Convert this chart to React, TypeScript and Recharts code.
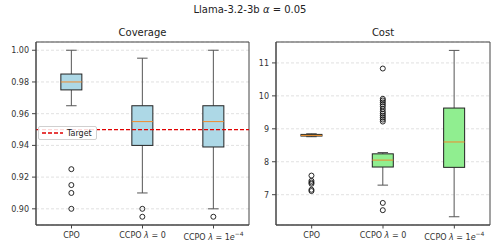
import React from 'react';
import {
  ComposedChart,
  Bar,
  XAxis,
  YAxis,
  CartesianGrid,
  ReferenceLine,
  ReferenceArea,
  Legend,
} from 'recharts';

// ---------- data ----------
const MODEL = 'Llama-3.2-3b';
const ALPHA = '0.05';
const CATEGORIES = ['CPO', 'CCPO λ=0', 'CCPO λ=1e-4'];

// Coverage panel
const COV_WHISKER_LOW = [0.965, 0.91, 0.9];
const COV_Q1 = [0.975, 0.94, 0.939];
const COV_MEDIAN = [0.98, 0.955, 0.955];
const COV_Q3 = [0.985, 0.965, 0.965];
const COV_WHISKER_HIGH = [1.0, 0.995, 1.0];
const COV_OUTLIERS = [[0.925, 0.915, 0.91, 0.9], [0.9, 0.895], [0.895]];
const COV_TICKS = [0.9, 0.92, 0.94, 0.96, 0.98, 1.0];
const COV_DOMAIN: [number, number] = [0.8898, 1.0052];
const TARGET = 0.95;
const TARGET_LABEL = 'Target';

// Cost panel
const COST_WHISKER_LOW = [8.76, 7.29, 6.33];
const COST_Q1 = [8.78, 7.84, 7.83];
const COST_MEDIAN = [8.8, 8.05, 8.6];
const COST_Q3 = [8.83, 8.24, 9.63];
const COST_WHISKER_HIGH = [8.85, 8.28, 11.38];
const COST_OUTLIERS = [
  [7.58, 7.42, 7.37, 7.33, 7.15, 7.11],
  [10.83, 9.91, 9.86, 9.8, 9.74, 9.68, 9.6, 9.52, 9.46, 9.4, 9.34, 9.28, 9.22, 6.75, 6.53],
  [],
];
const COST_TICKS = [7, 8, 9, 10, 11];
const COST_DOMAIN: [number, number] = [6.08, 11.635];

// ---------- helpers ----------
type Row = {
  name: string;
  wlo: number;
  q1: number;
  med: number;
  q3: number;
  whi: number;
  outliers: number[];
};

const buildRows = (
  wlo: number[],
  q1: number[],
  med: number[],
  q3: number[],
  whi: number[],
  out: number[][]
): Row[] =>
  CATEGORIES.map((name, i) => ({
    name,
    wlo: wlo[i],
    q1: q1[i],
    med: med[i],
    q3: q3[i],
    whi: whi[i],
    outliers: out[i],
  }));

const covRows = buildRows(COV_WHISKER_LOW, COV_Q1, COV_MEDIAN, COV_Q3, COV_WHISKER_HIGH, COV_OUTLIERS);
const costRows = buildRows(COST_WHISKER_LOW, COST_Q1, COST_MEDIAN, COST_Q3, COST_WHISKER_HIGH, COST_OUTLIERS);

const rangeOf = (d: Row): [number, number] => [
  Math.min(d.wlo, ...d.outliers),
  Math.max(d.whi, ...d.outliers),
];

const FONT = '"DejaVu Sans", sans-serif';
const SPINE = '#444';
const TICK_TEXT = '#333';

const makeBoxShape = (fill: string) => (props: any) => {
  const { x, y, width, height, payload } = props;
  if (x == null || y == null || !payload) return <g />;
  const d = payload as Row;
  const [lo, hi] = rangeOf(d);
  const top = Math.min(y, y + height);
  const bot = Math.max(y, y + height);
  const py = (v: number) => bot - ((v - lo) / (hi - lo)) * (bot - top);
  const cx = x + width / 2;
  const capHalf = width / 4;
  const whiskerColor = '#555';
  return (
    <g>
      <line x1={cx} x2={cx} y1={py(d.q3)} y2={py(d.whi)} stroke={whiskerColor} strokeWidth={1} />
      <line x1={cx} x2={cx} y1={py(d.q1)} y2={py(d.wlo)} stroke={whiskerColor} strokeWidth={1} />
      <line x1={cx - capHalf} x2={cx + capHalf} y1={py(d.whi)} y2={py(d.whi)} stroke={whiskerColor} strokeWidth={1} />
      <line x1={cx - capHalf} x2={cx + capHalf} y1={py(d.wlo)} y2={py(d.wlo)} stroke={whiskerColor} strokeWidth={1} />
      <rect
        x={x}
        y={py(d.q3)}
        width={width}
        height={Math.max(0, py(d.q1) - py(d.q3))}
        fill={fill}
        stroke="#222"
        strokeWidth={1}
      />
      <line x1={x} x2={x + width} y1={py(d.med)} y2={py(d.med)} stroke="#f08a2c" strokeWidth={1} />
      {d.outliers.map((v, i) => (
        <circle key={i} cx={cx} cy={py(v)} r={2.5} fill="none" stroke="#111" strokeWidth={0.9} />
      ))}
    </g>
  );
};

const CatTick = (props: any) => {
  const { x, y, payload } = props;
  const label: string = String(payload?.value ?? '');
  const common = {
    x,
    textAnchor: 'middle' as const,
    fontSize: 8,
    fontFamily: FONT,
    fill: TICK_TEXT,
  };
  const m = label.match(/^(.*?)\s*λ\s*=\s*(.*)$/);
  if (!m) {
    return (
      <text {...common} y={y} dy="0.71em">
        {label}
      </text>
    );
  }
  const pre = m[1];
  const val = m[2];
  const sup = val.match(/^1e(-?\d+)$/);
  if (sup) {
    return (
      <text {...common} y={y + 1.5} dy="0.71em">
        {pre}{' '}
        <tspan fontStyle="italic">λ</tspan>
        {' = 1'}
        <tspan fontStyle="italic">e</tspan>
        <tspan dy={-3.5} fontSize={6}>{sup[1].replace('-', '−')}</tspan>
      </text>
    );
  }
  return (
    <text {...common} y={y} dy="0.71em">
      {pre}{' '}
      <tspan fontStyle="italic">λ</tspan>
      {' = ' + val}
    </text>
  );
};

const LegendBox = () => (
  <div
    style={{
      display: 'flex',
      alignItems: 'center',
      border: '1px solid #d0d0d0',
      borderRadius: 2,
      background: 'rgba(255,255,255,0.85)',
      padding: '0 4px 0 3px',
      height: 12,
      fontFamily: FONT,
      fontSize: 8,
      color: '#222',
      whiteSpace: 'nowrap',
    }}
  >
    <svg width={21} height={6} style={{ marginRight: 4 }}>
      <line x1={0} x2={21} y1={3} y2={3} stroke="#e00000" strokeWidth={1.3} strokeDasharray="4 2" />
    </svg>
    <span>{TARGET_LABEL}</span>
  </div>
);

type PanelProps = {
  rows: Row[];
  domain: [number, number];
  ticks: number[];
  fill: string;
  fmt: (v: number) => string;
  yWidth: number;
  marginRight: number;
  withTarget?: boolean;
};

const Panel = ({ rows, domain, ticks, fill, fmt, yWidth, marginRight, withTarget }: PanelProps) => (
  <ComposedChart
    width={250}
    height={252}
    data={rows}
    margin={{ top: 42, right: marginRight, left: 0, bottom: 0 }}
    barCategoryGap="35%"
  >
    <CartesianGrid vertical={false} stroke="#d4d4d4" strokeDasharray="3 2" strokeWidth={0.7} />
    <XAxis
      dataKey="name"
      type="category"
      height={27}
      interval={0}
      tickSize={3.5}
      tickMargin={4}
      tick={<CatTick />}
      axisLine={{ stroke: SPINE }}
      tickLine={{ stroke: SPINE }}
    />
    <YAxis
      type="number"
      domain={domain}
      ticks={ticks}
      allowDataOverflow
      width={yWidth}
      tickSize={4}
      tickMargin={3}
      tickFormatter={fmt}
      tick={{ fontSize: 8, fill: TICK_TEXT, fontFamily: FONT }}
      axisLine={{ stroke: SPINE }}
      tickLine={{ stroke: SPINE }}
    />
    <ReferenceArea
      y1={domain[0]}
      y2={domain[1]}
      fill="none"
      fillOpacity={0}
      stroke={SPINE}
      strokeWidth={1}
      ifOverflow="visible"
    />
    {withTarget && (
      <ReferenceLine y={TARGET} stroke="#e00000" strokeWidth={1.3} strokeDasharray="4 2" />
    )}
    <Bar
      dataKey={(d: Row) => rangeOf(d)}
      fill={fill}
      shape={makeBoxShape(fill)}
      isAnimationActive={false}
      legendType="none"
    />
    {withTarget && (
      <Legend
        layout="vertical"
        align="center"
        verticalAlign="middle"
        wrapperStyle={{ left: 38, top: 126, width: 'auto', height: 'auto' }}
        content={() => <LegendBox />}
      />
    )}
  </ComposedChart>
);

export default function App() {
  const titleStyle: React.CSSProperties = {
    position: 'absolute',
    fontFamily: FONT,
    fontSize: 10,
    lineHeight: '14px',
    color: '#222',
    textAlign: 'center',
    whiteSpace: 'nowrap',
  };
  return (
    <div
      style={{
        position: 'absolute',
        left: 0,
        top: 0,
        width: 500,
        height: 252,
        background: '#fff',
        overflow: 'hidden',
      }}
    >
      <div style={{ ...titleStyle, left: 0, width: 500, top: 3 }}>
        {MODEL} <i>α</i> = {ALPHA}
      </div>
      <div style={{ ...titleStyle, left: 36, width: 213, top: 26 }}>Coverage</div>
      <div style={{ ...titleStyle, left: 276, width: 214, top: 26 }}>Cost</div>
      <div style={{ position: 'absolute', left: 0, top: 0 }}>
        <Panel
          rows={covRows}
          domain={COV_DOMAIN}
          ticks={COV_TICKS}
          fill="#add8e6"
          fmt={(v) => v.toFixed(2)}
          yWidth={36}
          marginRight={1}
          withTarget
        />
      </div>
      <div style={{ position: 'absolute', left: 250, top: 0 }}>
        <Panel
          rows={costRows}
          domain={COST_DOMAIN}
          ticks={COST_TICKS}
          fill="#90ee90"
          fmt={(v) => String(v)}
          yWidth={26}
          marginRight={10}
        />
      </div>
    </div>
  );
}
